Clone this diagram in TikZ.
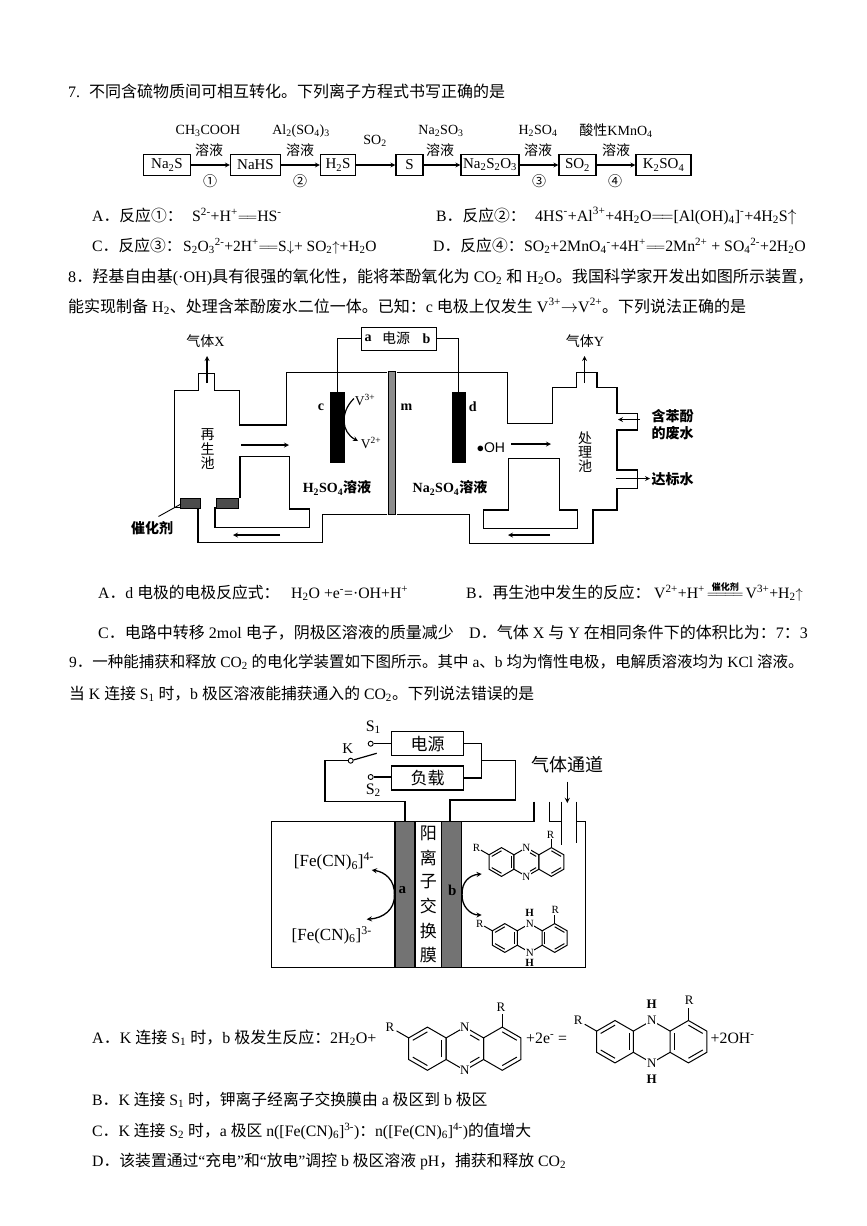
\documentclass[tikz,border=0pt]{standalone}
\usepackage{fontspec}
\setmainfont{Liberation Serif}
\setsansfont{Liberation Sans}
\newfontfamily\cjk{Noto Sans CJK SC}
\usetikzlibrary{calc}
\usetikzlibrary{positioning}

\newcommand{\zh}[1]{{\cjk #1}}
\newcommand{\subs}[1]{\textsubscript{#1}}
\newcommand{\sups}[1]{\textsuperscript{#1}}
\newcommand{\eqq}{$=\!=$}
\newcommand{\upg}{$\uparrow$}
\newcommand{\dng}{$\downarrow$}
\newcommand{\fs}[1]{\fontsize{#1}{#1}\selectfont}

% one six-membered ring, centre x, then the start angles of its inner bonds
\newcommand{\hexring}[2]{
  \draw[bond, shift={(#1,0)}] (30:1) -- (90:1) -- (150:1) -- (210:1) -- (270:1) -- (330:1) -- cycle;
  \foreach \ang in {#2} \draw[bond, shift={(#1,0)}] (\ang:.78) -- (\ang+60:.78);
}
% name, x, y, bond length, font size
\newcommand{\oxform}[5]{
  \begin{scope}[shift={(#2,#3)}, x=#4pt, y=#4pt, every node/.style={font=\fs{#5}, inner sep=.6pt}]
    \hexring{0}{330,90,210}
    \hexring{1.732}{}
    \hexring{3.464}{30,270}
    \draw[bond] (1.98,.64) -- (2.407,.39);
    \draw[bond] (1.98,-.64) -- (2.407,-.39);
    \node[fill=white] (#1n1) at (1.732,1) {N};
    \node[fill=white] (#1n2) at (1.732,-1) {N};
    \draw[bond] (150:1) -- (150:1.65);
    \draw[bond] (3.464,1) -- (3.464,1.6);
    \node (#1r1) at (150:2) {R};
    \node (#1r2) at (3.4,1.9) {R};
  \end{scope}
}
\newcommand{\redform}[5]{
  \begin{scope}[shift={(#2,#3)}, x=#4pt, y=#4pt, every node/.style={font=\fs{#5}, inner sep=.6pt}]
    \hexring{0}{330,90,210}
    \draw[bond] (.866,.5) -- (1.732,1) -- (2.598,.5);
    \draw[bond] (.866,-.5) -- (1.732,-1) -- (2.598,-.5);
    \hexring{3.464}{150,30,270}
    \node[fill=white] (#1n1) at (1.732,1) {N};
    \node[fill=white] (#1n2) at (1.732,-1) {N};
    \node (#1h1) at (1.732,1.75) {\bfseries H};
    \node (#1h2) at (1.732,-1.75) {\bfseries H};
    \draw[bond] (150:1) -- (150:1.65);
    \draw[bond] (3.464,1) -- (3.464,1.6);
    \node (#1r1) at (150:2) {R};
    \node (#1r2) at (3.5,1.95) {R};
  \end{scope}
}

\tikzset{
  line/.style = {anchor=base west, inner sep=0pt, font=\fs{15.8}},
  bond/.style = {line width=1pt, line join=miter},
  wall/.style = {line width=1.2pt, line join=miter},
  lab/.style = {inner sep=0pt, font=\fs{14}},
  tag/.style = {inner sep=0pt, font=\fs{14}},
  flowbox/.style = {draw, line width=1.2pt, minimum height=21pt, inner sep=0pt, font=\fs{15}},
  pole/.style = {draw, fill=black, inner sep=0pt, minimum width=13.6pt, minimum height=69.4pt},
  plate/.style = {draw, line width=1.2pt, fill=black!55, inner sep=0pt, minimum width=20pt, minimum height=146pt},
  contact/.style = {circle, draw, fill=white, line width=.9pt, inner sep=0pt, minimum size=5pt},
  panel/.style = {draw, line width=1.2pt, inner sep=0pt, minimum width=71.6pt, minimum height=24pt, font=\fs{17}},
}

\begin{document}
\begin{tikzpicture}[x=1pt, y=-1pt, >=stealth]
  \useasboundingbox (0,0) rectangle (867,1226);

  % question 7
  \node[line, font=\fs{16}] (t7) at (68,97.5) {7.\hspace{9pt}\zh{不同含硫物质间可相互转化。下列离子方程式书写正确的是}};

  \node[flowbox, minimum width=47pt] (nas) at (167,165) {Na\subs{2}S};
  \node[flowbox, minimum width=50pt] (nahs) at (255.5,165) {NaHS};
  \node[flowbox, minimum width=35pt] (hhs) at (338,165) {H\subs{2}S};
  \node[flowbox, minimum width=27pt] (sul) at (409.5,165) {S};
  \node[flowbox, minimum width=58pt] (thio) at (490,165) {Na\subs{2}S\subs{2}O\subs{3}};
  \node[flowbox, minimum width=37pt] (sod) at (577.5,165) {SO\subs{2}};
  \node[flowbox, minimum width=55pt] (kso) at (663.5,165) {K\subs{2}SO\subs{4}};

  \begin{scope}[line width=1.2pt, ->]
    \draw (nas) -- (nahs);
    \draw (nahs) -- (hhs);
    \draw (hhs) -- (sul);
    \draw (sul) -- (thio);
    \draw (thio) -- (sod);
    \draw (sod) -- (kso);
  \end{scope}

  \node[lab] (r1a) at (208,131) {CH\subs{3}COOH};
  \node[lab] (r1b) at (209,150) {\zh{溶液}};
  \node[lab] (r1c) at (210,181) {\zh{①}};
  \node[lab] (r2a) at (301,131) {Al\subs{2}(SO\subs{4})\subs{3}};
  \node[lab] (r2b) at (300,150) {\zh{溶液}};
  \node[lab] (r2c) at (300,181) {\zh{②}};
  \node[lab] (r3a) at (375,141) {SO\subs{2}};
  \node[lab] (r4a) at (441,131) {Na\subs{2}SO\subs{3}};
  \node[lab] (r4b) at (440,150) {\zh{溶液}};
  \node[lab] (r5a) at (538,131) {H\subs{2}SO\subs{4}};
  \node[lab] (r5b) at (538,150) {\zh{溶液}};
  \node[lab] (r5c) at (539,181) {\zh{③}};
  \node[lab] (r6a) at (616,131) {\zh{酸性}KMnO\subs{4}};
  \node[lab] (r6b) at (616,150) {\zh{溶液}};
  \node[lab] (r6c) at (615,181) {\zh{④}};

  \node[line] (o7a) at (92,221) {A\zh{．反应①：}};
  \node[line] (e7a) at (192,221) {S\sups{2-}+H\sups{+}\eqq HS\sups{-}};
  \node[line] (o7b) at (436,221) {B\zh{．反应②：}};
  \node[line, font=\fs{16}] (e7b) at (535,221) {4HS\sups{-}+Al\sups{3+}+4H\subs{2}O\eqq[Al(OH)\subs{4}]\sups{-}+4H\subs{2}S\upg};
  \node[line] (o7c) at (92,251) {C\zh{．反应③：}};
  \node[line, font=\fs{15.5}] (e7c) at (183,251) {S\subs{2}O\subs{3}\sups{2-}+2H\sups{+}\eqq S\dng+ SO\subs{2}\upg+H\subs{2}O};
  \node[line] (o7d) at (433,251) {D\zh{．反应④：}};
  \node[line] (e7d) at (524,251) {SO\subs{2}+2MnO\subs{4}\sups{-}+4H\sups{+}\eqq 2Mn\sups{2+} + SO\subs{4}\sups{2-}+2H\subs{2}O};

  % question 8
  \node[line, font=\fs{16.1}] (t8a) at (68,282) {8\zh{．羟基自由基}(·OH)\zh{具有很强的氧化性，能将苯酚氧化为} CO\subs{2} \zh{和} H\subs{2}O\zh{。我国科学家开发出如图所示装置，}};
  \node[line, font=\fs{16}] (t8b) at (68,312) {\zh{能实现制备} H\subs{2}\zh{、处理含苯酚废水二位一体。已知：}c \zh{电极上仅发生} V\sups{3+}$\rightarrow$V\sups{2+}\zh{。下列说法正确的是}};

  \node[draw, line width=1pt, minimum width=74.5pt, minimum height=23pt, inner sep=0pt] (supply) at (399,338.5) {};
  \node[tag] (supa) at (368,338.5) {\bfseries a};
  \node[tag] (supm) at (396,338.5) {\zh{电源}};
  \node[tag] (supb) at (426.5,338.5) {\bfseries b};

  \draw[wall] (387.3,514.3) -- (322.7,514.3) -- (322.7,542.7) -- (198,542.7) -- (198,507.3) -- (174.6,507.3)
    -- (174.6,390.7) -- (198.8,390.7) -- (198.8,373.3) -- (214.2,373.3) -- (214.2,390.7) -- (239.2,390.7)
    -- (239.2,425) -- (286.2,425) -- (286.2,372.3) -- (387.3,372.3);
  \draw[wall] (396.9,372.3) -- (507.7,372.3) -- (507.7,423.3) -- (552.7,423.3) -- (552.7,387.7) -- (576.5,387.7)
    -- (576.5,372.3) -- (596.9,372.3) -- (596.9,387.7) -- (616.9,387.7) -- (616.9,413.3) -- (637.3,413.3)
    -- (637.3,430) -- (616.9,430) -- (616.9,470) -- (637.3,470) -- (637.3,488.3) -- (616.9,488.3)
    -- (616.9,510) -- (593,510) -- (593,543.3) -- (469.2,543.3) -- (469.2,514.3) -- (396.9,514.3);
  \draw[wall] (240,498.3) -- (240,456.7) -- (289.2,456.7) -- (289.2,509) -- (309.2,509) -- (309.2,527.7) -- (215,527.7) -- (215,507.3);
  \draw[wall] (508.5,458.3) -- (559.2,458.3) -- (559.2,510) -- (577.7,510) -- (577.7,528.3) -- (483.5,528.3) -- (483.5,510) -- (508.5,510) -- cycle;

  \node[draw, fill=black!70, inner sep=0pt, minimum width=20pt, minimum height=10pt] (catl) at (189.8,502.7) {};
  \node[draw, fill=black!70, inner sep=0pt, minimum width=22pt, minimum height=10pt] (catr) at (227.2,502.7) {};
  \node[draw, fill=black!45, inner sep=0pt, minimum width=7pt, minimum height=143pt] (memb) at (392,442.7) {};

  \node[pole] (elecc) at (337.3,427) {};
  \node[pole] (elecd) at (458.7,427) {};
  \draw[wall] (supply.west) -| (elecc.north);
  \draw[wall] (supply.east) -| (elecd.north);

  \begin{scope}[line width=1.2pt, ->]
    \draw (207,383) -- (207,356);
    \draw (584.5,383) -- (584.5,356);
    \draw (241,445) -- (289,445);
    \draw (511,444) -- (551,444);
    \draw (280,535) -- (233,535);
    \draw (550,535) -- (508,535);
    \draw (640,419.5) -- (618,419.5);
    \draw (616,478.5) -- (650,478.5);
    \draw (354,398.5) .. controls (340,412) and (341,432) .. (358,441);
  \end{scope}
  \draw[line width=.9pt] (158.5,516.5) -- (181,504);

  \node[tag] (gasx) at (205.5,341) {\zh{气体}X};
  \node[tag] (gasy) at (585,341) {\zh{气体}Y};
  \node[tag] (rega) at (207.5,435) {\zh{再}};
  \node[tag] (regb) at (207.5,449) {\zh{生}};
  \node[tag] (regc) at (207.5,463) {\zh{池}};
  \node[tag] (proa) at (585,438) {\zh{处}};
  \node[tag] (prob) at (585,452) {\zh{理}};
  \node[tag] (proc) at (585,466) {\zh{池}};
  \node[tag] (labc) at (321,407.5) {\bfseries c};
  \node[tag] (labm) at (406.5,407.5) {\bfseries m};
  \node[tag] (labd) at (472.7,407) {\bfseries d};
  \node[tag] (vthr) at (365,400) {\fs{13.5}V\sups{3+}};
  \node[tag] (vtwo) at (371,443) {\fs{13.5}V\sups{2+}};
  \node[tag] (hyd) at (491,448) {\sffamily $\bullet$OH};
  \node[tag] (acid) at (337,488) {\bfseries H\subs{2}SO\subs{4}\zh{溶液}};
  \node[tag] (salt) at (450,488) {\bfseries Na\subs{2}SO\subs{4}\zh{溶液}};
  \node[tag] (cata) at (152,528) {\bfseries\zh{催化剂}};
  \node[tag] (waa) at (672.5,416) {\bfseries\zh{含苯酚}};
  \node[tag] (wab) at (672.5,433) {\bfseries\zh{的废水}};
  \node[tag] (wac) at (672.5,479) {\bfseries\zh{达标水}};

  \node[line] (o8a) at (98,598) {A\zh{．}d \zh{电极的电极反应式：}};
  \node[line] (e8a) at (291,598) {H\subs{2}O +e\sups{-}=·OH+H\sups{+}};
  \node[line] (o8b) at (466,598) {B\zh{．再生池中发生的反应：}};
  \node[line] (e8b) at (654,598) {V\sups{2+}+H\sups{+}\hspace{2pt}$\stackrel{\mbox{\fs{9}\bfseries\zh{催化剂}}}{=\!=\!=\!=}$\hspace{2pt}V\sups{3+}+H\subs{2}\upg};
  \node[line, font=\fs{16}] (o8c) at (98,638) {C\zh{．电路中转移} 2mol \zh{电子，阴极区溶液的质量减少}};
  \node[line, font=\fs{16}] (o8d) at (469,638) {D\zh{．气体} X \zh{与} Y \zh{在相同条件下的体积比为：}7\zh{：}3};

  % question 9
  \node[line, font=\fs{15.5}] (t9a) at (69,667) {9\zh{．一种能捕获和释放} CO\subs{2} \zh{的电化学装置如下图所示。其中} a\zh{、}b \zh{均为惰性电极，电解质溶液均为} KCl \zh{溶液。}};
  \node[line] (t9b) at (69,699) {\zh{当} K \zh{连接} S\subs{1} \zh{时，}b \zh{极区溶液能捕获通入的} CO\subs{2}\zh{。下列说法错误的是}};

  \node[panel] (powerb) at (427.5,743.7) {\zh{电源}};
  \node[panel] (loadb) at (427.5,778) {\zh{负载}};
  \node[contact] (s1) at (370.7,743.7) {};
  \node[contact] (s2) at (370.7,777) {};
  \node[contact] (kk) at (350.7,760.7) {};
  \coordinate (blade) at (376.7,753.3);
  \coordinate (jr) at (481.7,760.7);

  \node[plate] (eleca) at (405,894.7) {};
  \node[plate] (elecb) at (451.7,894.7) {};

  \draw[wall] (s1) -- (s1 -| powerb.west);
  \draw[wall] (s2) -- (s2 -| loadb.west);
  \draw[wall] (kk) -- (blade);
  \draw[wall] (powerb.east) -| (jr) |- (loadb.east);
  \draw[wall] (jr) -- (515.7,760.7) -- (515.7,800) -- (450,800) -- (450,821.7);
  \draw[wall] (kk) -- (325,760.7) -- (325,801.7) -- (405,801.7) -- (405,821.7);
  \draw[wall] (534,801.7) -- (534,821.7) -- (271.7,821.7) -- (271.7,967.7) -- (585.7,967.7) -- (585.7,821.7) -- (576.7,821.7);
  \draw[wall] (549.3,801.7) -- (549.3,821.7) -- (561.7,821.7);
  \draw[wall] (561.7,801.7) -- (561.7,845);
  \draw[wall] (576.7,801.7) -- (576.7,843.3);

  \begin{scope}[line width=1.3pt, ->]
    \draw (567.3,781.7) -- (567.3,803);
    \draw (eleca.west) .. controls (395,880) and (385,872) .. (371.7,870);
    \draw (eleca.west) .. controls (395,910) and (383,918) .. (366.7,919.3);
    \draw (elecb.east) .. controls (461,882) and (470,875) .. (481.7,874);
    \draw (elecb.east) .. controls (461,905) and (470,915) .. (481.7,915);
  \end{scope}

  \node[tag] (lsa) at (373.3,727.3) {\fs{16}S\subs{1}};
  \node[tag] (lk) at (347.7,748.3) {\fs{15}K};
  \node[tag] (lsb) at (373.3,790) {\fs{16}S\subs{2}};
  \node[tag] (gaspass) at (567,765) {\fs{18}\zh{气体通道}};
  \node[tag] (feiv) at (334,861.7) {\fs{17}[Fe(CN)\subs{6}]\sups{4-}};
  \node[tag] (feiii) at (331.7,935) {\fs{17}[Fe(CN)\subs{6}]\sups{3-}};
  \node[tag] (lpa) at (402.3,890) {\fs{15}\bfseries a};
  \node[tag] (lpb) at (452.3,890) {\fs{15}\bfseries b};
  \foreach \memy/\memc [count=\memi] in {833/阳,858/离,882/子,906/交,931/换,955/膜}
    \node[tag] (mem\memi) at (428.3,\memy) {\fs{17}\zh{\memc}};

  \oxform{fa}{501.5}{862}{14.4}{11}
  \redform{fb}{504.8}{938}{14.4}{11}

  \node[line, font=\fs{16}] (o9a) at (92,1043) {A\zh{．}K \zh{连接} S\subs{1} \zh{时，}b \zh{极发生反应：}};
  \node[line, font=\fs{16}] (e9a) at (330,1043) {2H\subs{2}O+};
  \oxform{fc}{427.4}{1048.7}{21.6}{13}
  \node[line] (e9b) at (526,1043) {+2e\sups{-} =};
  \redform{fd}{615}{1041.7}{21.2}{13}
  \node[line] (e9c) at (710.5,1043) {+2OH\sups{-}};

  \node[line] (o9b) at (92,1105) {B\zh{．}K \zh{连接} S\subs{1} \zh{时，钾离子经离子交换膜由} a \zh{极区到} b \zh{极区}};
  \node[line] (o9c) at (92,1136) {C\zh{．}K \zh{连接} S\subs{2} \zh{时，}a \zh{极区} n([Fe(CN)\subs{6}]\sups{3-})\zh{：}n([Fe(CN)\subs{6}]\sups{4-})\zh{的值增大}};
  \node[line] (o9d) at (92,1166) {D\zh{．该装置通过}“\zh{充电}”\zh{和}“\zh{放电}”\zh{调控} b \zh{极区溶液} pH\zh{，捕获和释放} CO\subs{2}};
\end{tikzpicture}
\end{document}
